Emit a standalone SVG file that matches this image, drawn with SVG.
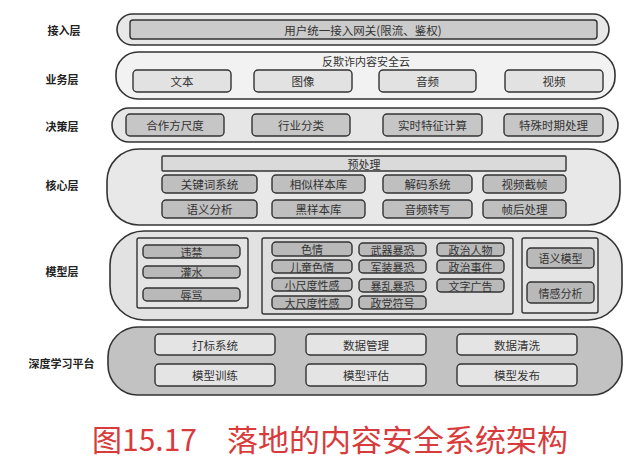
<svg xmlns="http://www.w3.org/2000/svg" width="640" height="460" viewBox="0 0 640 460">
<style>
text{font-family:"Noto Sans CJK SC","Liberation Sans",sans-serif;fill:#333;text-anchor:middle;dominant-baseline:central}
.lbl{font-size:11px;font-weight:bold;fill:#222}
.t{font-size:11.5px}
.s{font-size:11px}
.outer{stroke:#333;stroke-width:1.6}
.box{stroke:#333;stroke-width:1.4}
.cap{font-size:30px;fill:#d83b3b;text-anchor:start;dominant-baseline:alphabetic}
</style>
<rect width="640" height="460" fill="#fff"/>

<g id="layer-access">
<text class="lbl" x="64" y="30">接入层</text>
<rect class="outer" x="117" y="14" width="492" height="31" rx="15.5" fill="#e8e8e8"/>
<rect class="box" x="130" y="20" width="467" height="19" rx="3" fill="#cbcbcb"/>
<text class="t" x="363" y="29.5">用户统一接入网关(限流、鉴权)</text>
</g>

<g id="layer-business">
<text class="lbl" x="62" y="79">业务层</text>
<rect class="outer" x="116" y="52" width="499" height="47" rx="22" fill="#f2f2f2"/>
<text class="s" x="366" y="61">反欺诈内容安全云</text>
<g id="biz-text"><rect class="box" x="133" y="70" width="98" height="22" rx="4" fill="#e2e2e2"/><text class="t" x="182" y="81">文本</text></g>
<g id="biz-image"><rect class="box" x="254" y="70" width="98" height="22" rx="4" fill="#e2e2e2"/><text class="t" x="303" y="81">图像</text></g>
<g id="biz-audio"><rect class="box" x="379" y="70" width="97" height="22" rx="4" fill="#e2e2e2"/><text class="t" x="427.5" y="81">音频</text></g>
<g id="biz-video"><rect class="box" x="505" y="70" width="98" height="22" rx="4" fill="#e2e2e2"/><text class="t" x="554" y="81">视频</text></g>
</g>

<g id="layer-decision">
<text class="lbl" x="62" y="126">决策层</text>
<rect class="outer" x="112" y="108" width="506" height="34" rx="17" fill="#e6e6e6"/>
<g id="dec-1"><rect class="box" x="126" y="114" width="98" height="22" rx="4" fill="#c6c6c6"/><text class="t" x="175" y="125">合作方尺度</text></g>
<g id="dec-2"><rect class="box" x="252" y="114" width="98" height="22" rx="4" fill="#c6c6c6"/><text class="t" x="301" y="125">行业分类</text></g>
<g id="dec-3"><rect class="box" x="383" y="114" width="99" height="22" rx="4" fill="#c6c6c6"/><text class="t" x="432.5" y="125">实时特征计算</text></g>
<g id="dec-4"><rect class="box" x="504" y="114" width="99" height="22" rx="4" fill="#c6c6c6"/><text class="t" x="553.5" y="125">特殊时期处理</text></g>
</g>

<g id="layer-core">
<text class="lbl" x="62" y="185">核心层</text>
<rect class="outer" x="107" y="149" width="513" height="76" rx="32" fill="#e8e8e8"/>
<rect class="box" x="162" y="156" width="404" height="15" rx="1" fill="#dadada" stroke-width="1.2"/>
<text class="s" x="364" y="163.5">预处理</text>
<g id="core-1"><rect class="box" x="162" y="175" width="95" height="18" rx="4" fill="#bfbfbf"/><text class="t" x="209.5" y="184">关键词系统</text></g>
<g id="core-2"><rect class="box" x="272" y="175" width="93" height="18" rx="4" fill="#bfbfbf"/><text class="t" x="318.5" y="184">相似样本库</text></g>
<g id="core-3"><rect class="box" x="383" y="175" width="89" height="18" rx="4" fill="#bfbfbf"/><text class="t" x="427.5" y="184">解码系统</text></g>
<g id="core-4"><rect class="box" x="483" y="175" width="83" height="18" rx="4" fill="#bfbfbf"/><text class="t" x="524.5" y="184">视频截帧</text></g>
<g id="core-5"><rect class="box" x="162" y="200" width="95" height="18" rx="4" fill="#bfbfbf"/><text class="t" x="209.5" y="209">语义分析</text></g>
<g id="core-6"><rect class="box" x="272" y="200" width="93" height="18" rx="4" fill="#bfbfbf"/><text class="t" x="318.5" y="209">黑样本库</text></g>
<g id="core-7"><rect class="box" x="383" y="200" width="89" height="18" rx="4" fill="#bfbfbf"/><text class="t" x="427.5" y="209">音频转写</text></g>
<g id="core-8"><rect class="box" x="483" y="200" width="83" height="18" rx="4" fill="#bfbfbf"/><text class="t" x="524.5" y="209">帧后处理</text></g>
</g>

<g id="layer-model">
<text class="lbl" x="62" y="271">模型层</text>
<rect class="outer" x="110" y="231" width="512" height="89" rx="34" fill="#e2e2e2"/>
<g id="model-left">
<rect class="box" x="137" y="238" width="111" height="70" rx="2" fill="#e4e4e4"/>
<g><rect class="box" x="143" y="245" width="97" height="13" rx="4" fill="#b9b9b9"/><text class="s" x="191.5" y="251.5">违禁</text></g>
<g><rect class="box" x="143" y="266" width="97" height="12" rx="4" fill="#b9b9b9"/><text class="s" x="191.5" y="272">灌水</text></g>
<g><rect class="box" x="143" y="288" width="97" height="13" rx="4" fill="#b9b9b9"/><text class="s" x="191.5" y="294.5">辱骂</text></g>
</g>
<g id="model-mid">
<rect class="box" x="262" y="238" width="251" height="76" rx="2" fill="#dedede"/>
<g><rect class="box" x="272" y="242" width="80" height="14" rx="4" fill="#b9b9b9"/><text class="s" x="312" y="249">色情</text></g>
<g><rect class="box" x="272" y="260" width="80" height="13" rx="4" fill="#b9b9b9"/><text class="s" x="312" y="266.5">儿童色情</text></g>
<g><rect class="box" x="272" y="278" width="80" height="13" rx="4" fill="#b9b9b9"/><text class="s" x="312" y="284.5">小尺度性感</text></g>
<g><rect class="box" x="272" y="296" width="80" height="13" rx="4" fill="#b9b9b9"/><text class="s" x="312" y="302.5">大尺度性感</text></g>
<g><rect class="box" x="359" y="243" width="67" height="13" rx="4" fill="#b9b9b9"/><text class="s" x="392.5" y="249.5">武器暴恐</text></g>
<g><rect class="box" x="359" y="260" width="67" height="13" rx="4" fill="#b9b9b9"/><text class="s" x="392.5" y="266.5">军装暴恐</text></g>
<g><rect class="box" x="359" y="279" width="67" height="13" rx="4" fill="#b9b9b9"/><text class="s" x="392.5" y="285.5">暴乱暴恐</text></g>
<g><rect class="box" x="359" y="296" width="67" height="13" rx="4" fill="#b9b9b9"/><text class="s" x="392.5" y="302.5">政党符号</text></g>
<g><rect class="box" x="437" y="243" width="67" height="13" rx="4" fill="#b9b9b9"/><text class="s" x="470.5" y="249.5">政治人物</text></g>
<g><rect class="box" x="437" y="260" width="67" height="13" rx="4" fill="#b9b9b9"/><text class="s" x="470.5" y="266.5">政治事件</text></g>
<g><rect class="box" x="437" y="279" width="67" height="13" rx="4" fill="#b9b9b9"/><text class="s" x="470.5" y="285.5">文字广告</text></g>
</g>
<g id="model-right">
<rect class="box" x="522" y="238" width="76" height="75" rx="2" fill="#e4e4e4"/>
<g><rect class="box" x="527" y="248" width="67" height="20" rx="4" fill="#b9b9b9"/><text class="s" x="560.5" y="258">语义模型</text></g>
<g><rect class="box" x="527" y="282" width="67" height="21" rx="4" fill="#b9b9b9"/><text class="s" x="560.5" y="292.5">情感分析</text></g>
</g>
</g>

<g id="layer-platform">
<text class="lbl" x="61.5" y="363">深度学习平台</text>
<rect class="outer" x="108" y="327" width="514" height="68" rx="30" fill="#c2c2c2"/>
<g><rect class="box" x="155" y="334" width="120" height="21" rx="4" fill="#e4e4e4"/><text class="t" x="215" y="344.5">打标系统</text></g>
<g><rect class="box" x="306" y="334" width="120" height="21" rx="4" fill="#e4e4e4"/><text class="t" x="366" y="344.5">数据管理</text></g>
<g><rect class="box" x="457" y="334" width="120" height="21" rx="4" fill="#e4e4e4"/><text class="t" x="517" y="344.5">数据清洗</text></g>
<g><rect class="box" x="155" y="364" width="120" height="22" rx="4" fill="#e4e4e4"/><text class="t" x="215" y="375">模型训练</text></g>
<g><rect class="box" x="306" y="364" width="120" height="22" rx="4" fill="#e4e4e4"/><text class="t" x="366" y="375">模型评估</text></g>
<g><rect class="box" x="457" y="364" width="120" height="22" rx="4" fill="#e4e4e4"/><text class="t" x="517" y="375">模型发布</text></g>
</g>

<g id="connectors"></g>

<g id="caption">
<text class="cap" x="92" y="451">图15.17</text>
<text class="cap" x="227" y="451" textLength="341" lengthAdjust="spacingAndGlyphs">落地的内容安全系统架构</text>
</g>
</svg>
